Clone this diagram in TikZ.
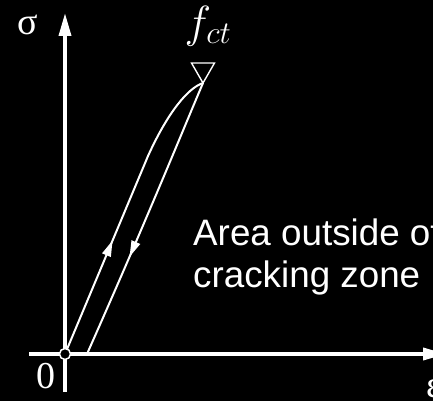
\RequirePackage{fix-cm}
\documentclass[tikz,border=0pt]{standalone}
\usepackage{fontspec}
\setmainfont{Liberation Serif}
\setsansfont{Liberation Sans}
\usetikzlibrary{arrows.meta,decorations.markings}

\begin{document}
\begin{tikzpicture}[x=1pt,y=-1pt,
  axis/.style={white,line width=3.6pt,-{Triangle[length=23pt,width=12pt]}},
  branch/.style={white,line width=2pt,postaction={decorate}},
  lbl/.style={white,inner sep=0pt,font=\fontsize{38}{40}\selectfont}]
  \fill[black] (0,0) rectangle (433,401);
  \clip (0,0) rectangle (433,401);
  \coordinate (O) at (65,354);\coordinate (P) at (203,83);\coordinate (U) at (87,354);
  \coordinate (xl) at (29,354);\coordinate (xr) at (446,354);
  \coordinate (yb) at (65,392);\coordinate (yt) at (65,13);
  % axes
  \draw[axis] (xl) -- (xr);
  \draw[axis] (yb) -- (yt);
  % loading up to f_ct, unloading back down
  \draw[branch,decoration={markings,mark=at position 0.4 with {\arrow{Triangle[length=16pt,width=9pt]}}}]
     (O) -- (148,156) .. controls (168,112) and (188,88) .. (P);
  \draw[branch,decoration={markings,mark=at position 0.64 with {\arrow{Triangle[length=16pt,width=9pt]}}}]
     (P) .. controls (185,125) and (150,212) .. (U);
  \draw[white,line width=1.4pt,line join=miter] (P) -- ++(-11.5,-20) -- ++(23,0) -- cycle;
  \draw[white,fill=black,line width=1.5pt] (O) circle (5.5);
  \node[lbl] (sig) at (28,25) {σ};
  \node[lbl] (zero) at (46,376) {0};
  \node[lbl] (eps) at (434,389) {ε};
  \node[lbl,font=\fontsize{45}{48}\selectfont] (fct) at (208,26) {$f_{ct}$};
  \node[white,inner sep=0pt,anchor=base west,align=left,font=\sffamily\fontsize{36.8}{42}\selectfont]
     (zone) at (193,287) {Area outside of\\cracking zone};
\end{tikzpicture}
\end{document}
